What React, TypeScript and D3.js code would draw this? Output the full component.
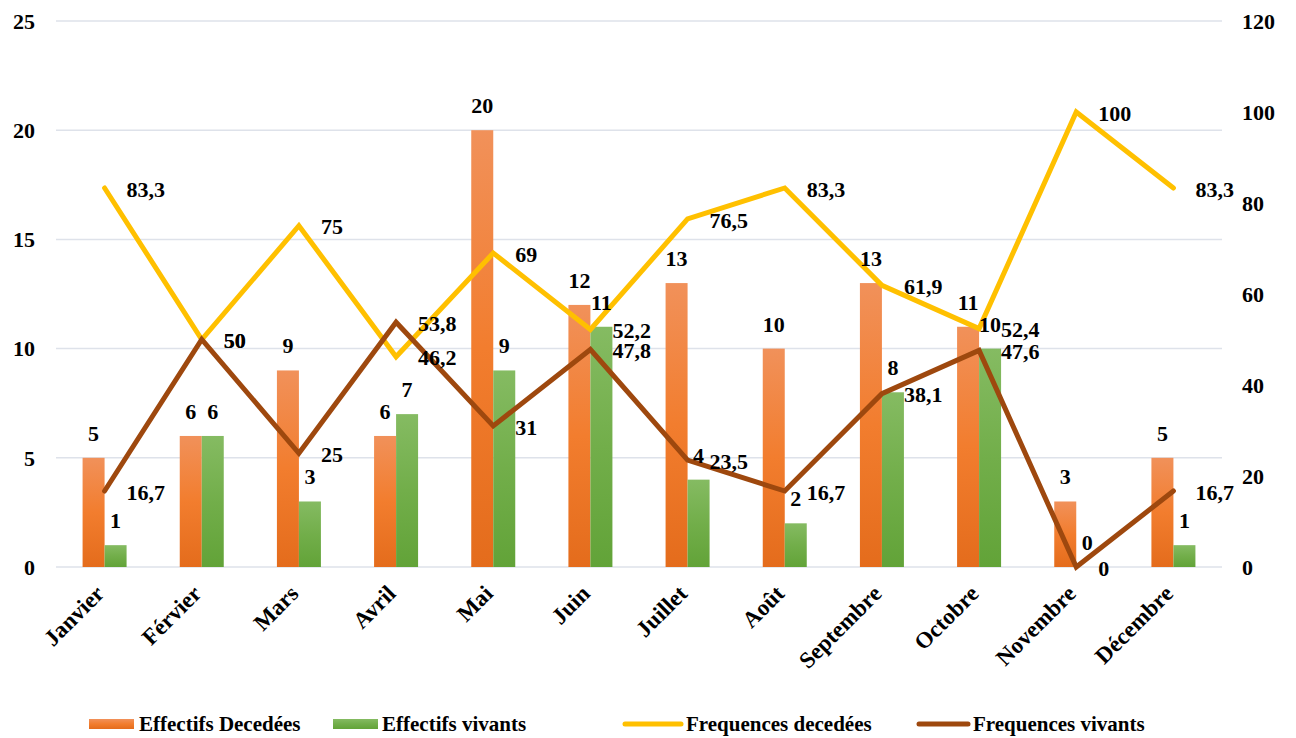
import React from "react";
import * as d3 from "d3";

const months = ["Janvier","Férvier","Mars","Avril","Mai","Juin","Juillet","Août","Septembre","Octobre","Novembre","Décembre"];
const effDecedees = [5,6,9,6,20,12,13,10,13,11,3,5];
const effVivants = [1,6,3,7,9,11,4,2,8,10,0,1];
const freqDecedees = [83.3,50,75,46.2,69,52.2,76.5,83.3,61.9,52.4,100,83.3];
const freqVivants = [16.7,50,25,53.8,31,47.8,23.5,16.7,38.1,47.6,0,16.7];
const leftTicks = [0,5,10,15,20,25];
const rightTicks = [0,20,40,60,80,100,120];

const W = 1296, H = 738;

const fmt = (v: number) => String(v).replace(".", ",");

function T(props: any) {
  return <text fontFamily="Liberation Serif" fontWeight="bold" fontSize={22} fill="#000" {...props} />;
}

export default function App() {
  const x0 = 56, x1 = 1222, yTop = 21, yBot = 567;
  const x = d3.scaleBand<string>().domain(months).range([x0, x1]);
  const yL = d3.scaleLinear().domain([0, 25]).range([yBot, yTop]);
  const yR = d3.scaleLinear().domain([0, 120]).range([yBot, yTop]);
  const bw = 22;
  const cx = (m: string) => (x(m) as number) + x.bandwidth() / 2;
  const line = d3.line<number>().x((_, i) => cx(months[i])).y(v => yR(v));

  return (
    <svg width={W} height={H} style={{ position: "absolute", left: 0, top: 0, background: "#fff" }}>
      <defs>
        <linearGradient id="gO" x1="0" y1="0" x2="0" y2="1">
          <stop offset="0" stopColor="#F1915A" />
          <stop offset="0.5" stopColor="#F27D2E" />
          <stop offset="1" stopColor="#E46C1C" />
        </linearGradient>
        <linearGradient id="gG" x1="0" y1="0" x2="0" y2="1">
          <stop offset="0" stopColor="#85BB62" />
          <stop offset="0.5" stopColor="#72AE4A" />
          <stop offset="1" stopColor="#62A338" />
        </linearGradient>
      </defs>
      {leftTicks.map(t => (
        <line key={"g" + t} x1={x0} x2={x1} y1={yL(t)} y2={yL(t)} stroke="#DEE2EA" strokeWidth={1.5} />
      ))}
      {leftTicks.map(t => (
        <T key={"l" + t} x={35} y={yL(t)} dy="0.35em" textAnchor="end">{t}</T>
      ))}
      {rightTicks.map(t => (
        <T key={"r" + t} x={1242} y={yR(t)} dy="0.35em" textAnchor="start">{t}</T>
      ))}
      {months.map((m, i) => (
        <g key={"b" + m}>
          <rect x={cx(m) - bw} y={yL(effDecedees[i])} width={bw} height={yBot - yL(effDecedees[i])} fill="url(#gO)" />
          <rect x={cx(m)} y={yL(effVivants[i])} width={bw} height={yBot - yL(effVivants[i])} fill="url(#gG)" />
        </g>
      ))}
      <path d={line(freqDecedees) || ""} fill="none" stroke="#FFC000" strokeWidth={5} strokeLinecap="round" strokeLinejoin="miter" />
      <path d={line(freqVivants) || ""} fill="none" stroke="#9E480E" strokeWidth={5} strokeLinecap="round" strokeLinejoin="miter" />
      {months.map((m, i) => (
        <g key={"lb" + m}>
          <T x={cx(m) - bw / 2} y={yL(effDecedees[i]) - 17} textAnchor="middle">{effDecedees[i]}</T>
          <T x={cx(m) + bw / 2} y={yL(effVivants[i]) - 17} textAnchor="middle">{effVivants[i]}</T>
          <T x={cx(m) + 22} y={yR(freqDecedees[i]) + 1} dy="0.35em">{fmt(freqDecedees[i])}</T>
          <T x={cx(m) + 22} y={yR(freqVivants[i]) + 1} dy="0.35em">{fmt(freqVivants[i])}</T>
        </g>
      ))}
      {months.map(m => (
        <T key={"x" + m} fontSize={23} transform={`translate(${cx(m) + 1},${595}) rotate(-45)`} textAnchor="end">{m}</T>
      ))}
      <rect x={89} y={719} width={45} height={10} fill="url(#gO)" />
      <T fontSize={21} x={139} y={724} dy="0.35em">Effectifs Decedées</T>
      <rect x={333} y={719} width={45} height={10} fill="url(#gG)" />
      <T fontSize={21} x={382} y={724} dy="0.35em">Effectifs vivants</T>
      <line x1={625} x2={681} y1={724} y2={724} stroke="#FFC000" strokeWidth={5} strokeLinecap="round" />
      <T fontSize={21} x={686} y={724} dy="0.35em">Frequences decedées</T>
      <line x1={919} x2={968} y1={724} y2={724} stroke="#9E480E" strokeWidth={5} strokeLinecap="round" />
      <T fontSize={21} x={973} y={724} dy="0.35em">Frequences vivants</T>
    </svg>
  );
}
